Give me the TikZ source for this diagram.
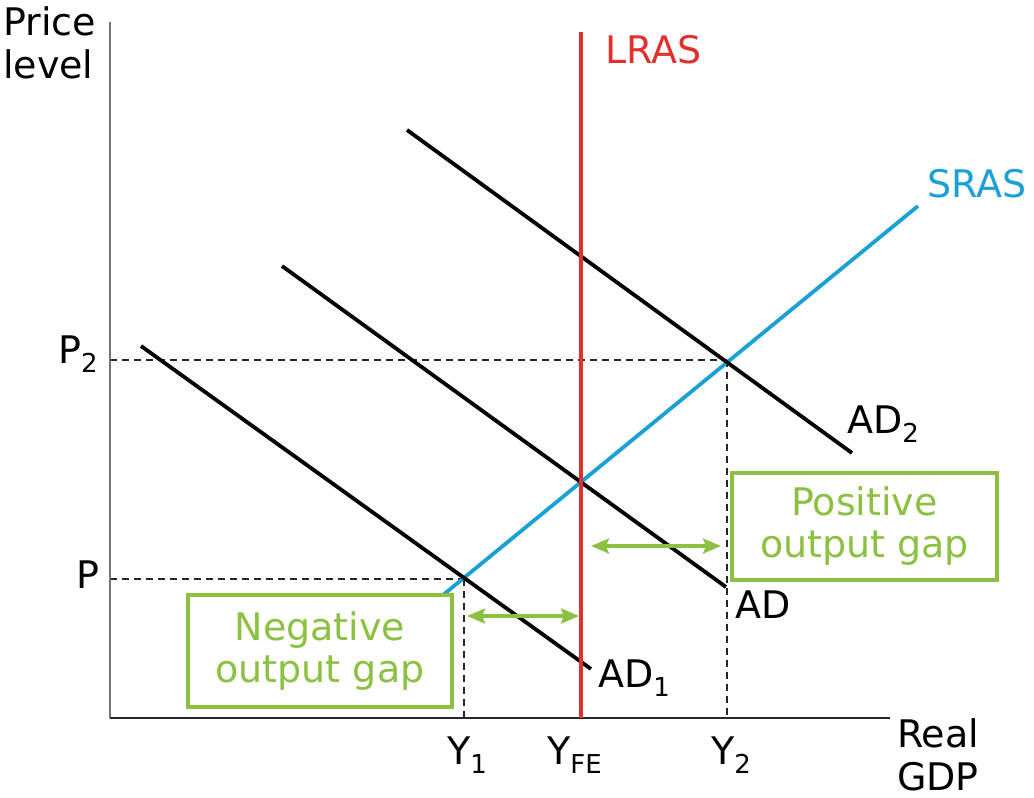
\documentclass[tikz,border=0pt]{standalone}
\usepackage{fontspec}
\setmainfont{DejaVu Sans}
\usetikzlibrary{arrows.meta}
\definecolor{lrasred}{HTML}{E0312F}
\definecolor{srasblue}{HTML}{1A9FD6}
\definecolor{gapgreen}{HTML}{8CC043}
\newcommand{\lowsub}[1]{\raisebox{-9pt}{\fontsize{26}{26}\selectfont #1}}
\tikzset{
  lbl/.style={inner sep=0pt, anchor=base west, font=\fontsize{38}{43}\selectfont},
  curve/.style={line width=3.8pt, line cap=butt},
  guide/.style={line width=1.6pt, dash pattern=on 7pt off 5pt, black!85},
  gapbox/.style={draw=gapgreen, line width=4pt, text=gapgreen, align=center,
    font=\fontsize{38}{42}\selectfont, inner sep=0pt},
  gaparrow/.style={gapgreen, line width=3.2pt, {Stealth[length=18pt,width=15pt,inset=3pt]}-{Stealth[length=18pt,width=15pt,inset=3pt]}}
}
\begin{document}
\begin{tikzpicture}[x=1pt,y=-1pt]
\useasboundingbox (0,0) rectangle (1034,798);
% key points
\coordinate (O) at (110,718);
\coordinate (ytop) at (110,22);
\coordinate (xend) at (890,718);
\coordinate (lrasT) at (581,32);
\coordinate (lrasB) at (581,718);
\coordinate (srasS) at (443,595);
\coordinate (srasE) at (918,206);
\coordinate (ad1S) at (141,346);
\coordinate (ad1E) at (591,669);
\coordinate (adS) at (282,266);
\coordinate (adE) at (726,587);
\coordinate (ad2S) at (407,130);
\coordinate (ad2E) at (852,453);
\coordinate (p2L) at (110,360);
\coordinate (p2R) at (727,360);
\coordinate (pL) at (110,579);
\coordinate (pR) at (464,579);
\coordinate (y1B) at (464,718);
\coordinate (y2B) at (727,718);
\coordinate (gl1) at (467,616);
\coordinate (gl2) at (579,616);
\coordinate (gu1) at (591,546);
\coordinate (gu2) at (721,546);

% guides
\draw[guide] (p2L) -- (p2R);
\draw[guide] (pL) -- (pR);
\draw[guide] (pR) -- (y1B);
\draw[guide] (p2R) -- (y2B);

% axes
\draw[line width=2.2pt, black!55] (ytop) -- (O);
\draw[line width=2.2pt, black!85] (O) -- (xend);

% curves
\draw[curve, srasblue] (srasS) -- (srasE);
\draw[curve, black] (ad1S) -- (ad1E);
\draw[curve, black] (adS) -- (adE);
\draw[curve, black] (ad2S) -- (ad2E);
\draw[curve, lrasred] (lrasT) -- (lrasB);

% gap arrows
\draw[gaparrow] (gl1) -- (gl2);
\draw[gaparrow] (gu1) -- (gu2);

% gap boxes
\node[gapbox, fill=white, minimum width=264pt, minimum height=112pt] (neg) at (320,651) {Negative\\output gap};
\node[gapbox, fill=white, minimum width=265pt, minimum height=107pt] (pos) at (864.5,526.5) {Positive\\output gap};

% labels
\node[lbl, align=left] (price) at (3,78) {Price\\level};
\node[lbl, align=left] (real) at (897,790) {Real\\GDP};
\node[lbl, text=lrasred] (lras) at (605,63) {LRAS};
\node[lbl, text=srasblue] (sras) at (927,197) {SRAS};
\node[lbl] (ad2l) at (847,433) {AD\lowsub{2}};
\node[lbl] (adl) at (735,618) {AD};
\node[lbl] (ad1l) at (598,687) {AD\lowsub{1}};
\node[lbl] (p2l) at (58,363) {P\lowsub{2}};
\node[lbl] (pl) at (76,588) {P};
\node[lbl] (y1l) at (447,764) {Y\lowsub{1}};
\node[lbl] (yfel) at (547,764) {Y\lowsub{FE}};
\node[lbl] (y2l) at (711,764) {Y\lowsub{2}};
\end{tikzpicture}
\end{document}
